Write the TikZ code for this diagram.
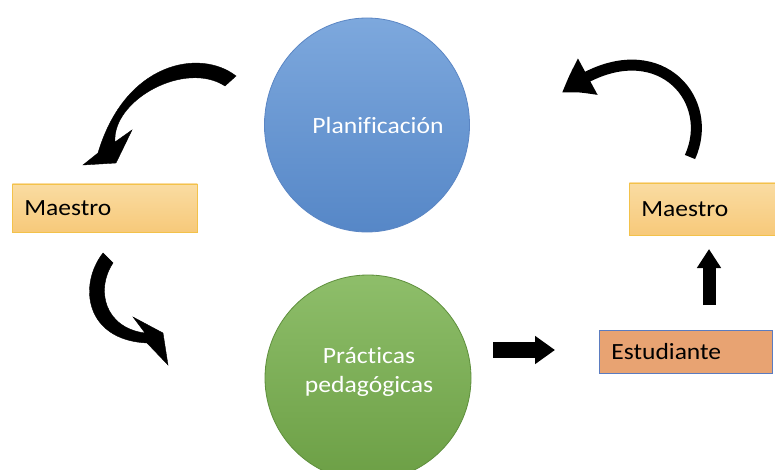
\documentclass[tikz,border=0pt]{standalone}
\usepackage{fontspec}
\setmainfont{Carlito}[FakeStretch=1.1,Ligatures=NoCommon]
\usetikzlibrary{shapes.geometric,arrows.meta,bending}
\definecolor{bluetop}{HTML}{7DA8DD}
\definecolor{bluebot}{HTML}{5687C7}
\definecolor{blueline}{HTML}{5B86C4}
\definecolor{greentop}{HTML}{8EBE6A}
\definecolor{greenbot}{HTML}{6C9F45}
\definecolor{greenline}{HTML}{5E8F3C}
\definecolor{boxtop}{HTML}{FADCA2}
\definecolor{boxbot}{HTML}{F7C97A}
\definecolor{boxline}{HTML}{F3C24A}
\definecolor{estfill}{HTML}{E8A372}
\definecolor{estline}{HTML}{5B7CC0}
\tikzset{
  bubble/.style={ellipse, inner sep=0pt, line width=0.8pt},
  bubbletext/.style={text=white, align=center, font=\fontsize{23.3}{29}\selectfont},
  labelbox/.style={rectangle, anchor=west, inner xsep=12pt, inner ysep=0pt,
    text width=#1, align=left, font=\fontsize{23.2}{26}\selectfont, line width=0.8pt},
  mbox/.style={labelbox=#1, top color=boxtop, bottom color=boxbot, draw=boxline},
  bigarrow/.style={line width=#1, draw=black},
  curvedarrow/.style={fill=black, draw=black, line width=0.4pt, line join=miter},
}
\begin{document}
\begin{tikzpicture}[x=1pt,y=-1pt]
\useasboundingbox (0,0) rectangle (775,470);
% circles
\node[bubble, minimum width=205pt, minimum height=214pt, top color=bluetop, bottom color=bluebot, draw=blueline]
  (plan) at (367,125) {};
\node[bubbletext] (plantxt) at (378,125) {Planificación};
\node[bubble, minimum width=206pt, minimum height=206pt, top color=greentop, bottom color=greenbot, draw=greenline]
  (prac) at (368,378) {};
\node[bubbletext] (practxt) at (369,372) {Prácticas\\pedagógicas};
% boxes
\node[mbox=161pt, minimum height=48pt] (m1) at (12,208) {Maestro};
\node[mbox=123pt, minimum height=52pt] (m2) at (629,209) {Maestro};
\node[labelbox=149pt, minimum height=43pt, fill=estfill, draw=estline] (est) at (599,351.5) {Estudiante};
% arrow coordinates
\coordinate (a1to) at (236,76);
\coordinate (a1ti) at (225,86);
\coordinate (a1tip) at (83,165);
\coordinate (a2to) at (103,253);
\coordinate (a2ti) at (113,263);
\coordinate (a2tip) at (168,365);
\coordinate (a3s) at (690,157);
\coordinate (a3e) at (562,93);
\coordinate (a4s) at (493,350);
\coordinate (a4e) at (555,350);
\coordinate (a5s) at (709,305);
\coordinate (a5e) at (709,249);
% tapered curved arrows (filled shapes)
\fill[curvedarrow]
  (a1to) .. controls (200,48) and (125,62) .. (98,153)
  -- (a1tip) -- (116,163) -- (132,130) -- (115,142)
  .. controls (112,100) and (185,60) .. (a1ti) -- cycle;
\fill[curvedarrow]
  (a2to) .. controls (78,285) and (85,340) .. (147,343)
  -- (a2tip) -- (163,333) -- (133,317) -- (145,333)
  .. controls (105,328) and (95,290) .. (a2ti) -- cycle;
% constant-width curved arrow
\draw[bigarrow=11pt, -{Triangle[width=38pt,length=32pt,bend]}]
  (a3s) .. controls (718,95) and (650,25) .. (a3e);
% straight arrows
\draw[bigarrow=16pt, -{Triangle[width=27pt,length=20pt]}] (a4s) -- (a4e);
\draw[bigarrow=13pt, -{Triangle[width=23pt,length=19pt]}] (a5s) -- (a5e);
\end{tikzpicture}
\end{document}
